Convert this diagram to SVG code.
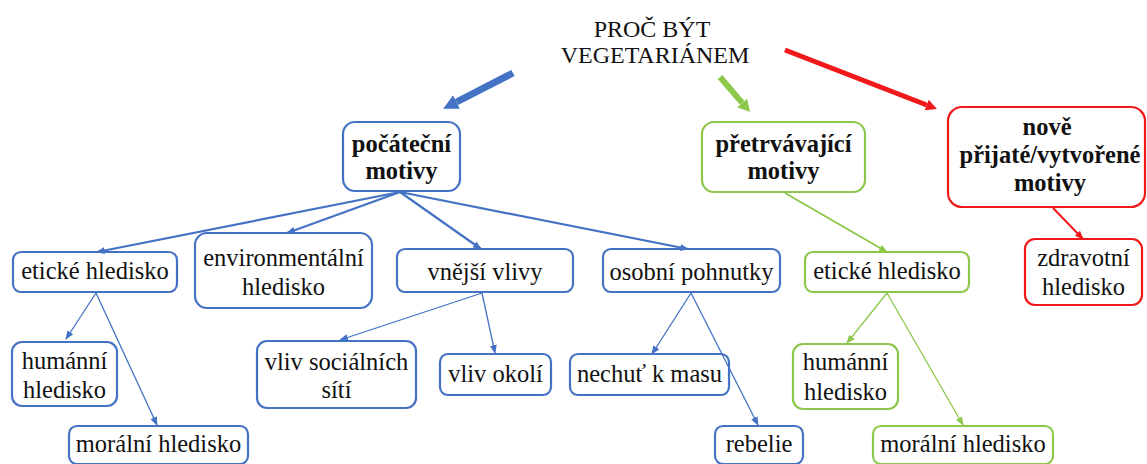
<svg xmlns="http://www.w3.org/2000/svg" width="1147" height="464" viewBox="0 0 1147 464" font-family="'Liberation Serif', 'Times New Roman', serif">
<style>
text{font-family:'Liberation Serif','Times New Roman',serif;fill:#111;text-anchor:middle}
.t{font-size:24px}
.n{font-size:24.5px}
.b{font-size:24.5px;font-weight:bold}
rect{fill:#fff;stroke-width:2.2}
.bl rect{stroke:#4472C4}
.gr rect{stroke:#8CC84B}
.rd rect{stroke:#F01818}
.cb{stroke:#4472C4;fill:none}
.cg{stroke:#8CC84B;fill:none}
.cr{stroke:#F01818;fill:none}
</style>
<defs>
<marker id="ab" markerUnits="userSpaceOnUse" viewBox="0 -5 9 10" refX="8" refY="0" markerWidth="9" markerHeight="10" orient="auto"><path d="M0,-3.5 L9,0 L0,3.5 z" fill="#4472C4"/></marker>
<marker id="ag" markerUnits="userSpaceOnUse" viewBox="0 -5 9 10" refX="8" refY="0" markerWidth="9" markerHeight="10" orient="auto"><path d="M0,-3.5 L9,0 L0,3.5 z" fill="#8CC84B"/></marker>
<marker id="ar" markerUnits="userSpaceOnUse" viewBox="0 -5 9 10" refX="8" refY="0" markerWidth="9" markerHeight="10" orient="auto"><path d="M0,-3.5 L9,0 L0,3.5 z" fill="#F01818"/></marker>
<marker id="Ab" markerUnits="userSpaceOnUse" viewBox="0 -8 16 16" refX="0" refY="0" markerWidth="16" markerHeight="16" orient="auto"><path d="M0,-7.5 L15,0 L0,7.5 z" fill="#4472C4"/></marker>
<marker id="Ag" markerUnits="userSpaceOnUse" viewBox="0 -8 16 16" refX="0" refY="0" markerWidth="16" markerHeight="16" orient="auto"><path d="M0,-6.5 L12,0 L0,6.5 z" fill="#8CC84B"/></marker>
<marker id="Ar" markerUnits="userSpaceOnUse" viewBox="0 -8 16 16" refX="0" refY="0" markerWidth="16" markerHeight="16" orient="auto"><path d="M0,-5.5 L11,0 L0,5.5 z" fill="#F01818"/></marker>
</defs>

<g id="title"><text class="t" x="652" y="37">PROČ BÝT</text><text class="t" x="655" y="63">VEGETARIÁNEM</text></g>

<g id="pocatecni" class="bl"><rect x="343" y="122" width="117" height="69" rx="12"/><text class="b" x="401.5" y="152">počáteční</text><text class="b" x="401.5" y="179">motivy</text></g>
<g id="pretrvavajici" class="gr"><rect x="702" y="122" width="163" height="70" rx="12"/><text class="b" x="783.5" y="152">přetrvávající</text><text class="b" x="783.5" y="179">motivy</text></g>
<g id="nove" class="rd"><rect x="948" y="107" width="197" height="100" rx="14"/><text class="b" x="1047" y="135">nově</text><text class="b" x="1050" y="163">přijaté/vytvořené</text><text class="b" x="1050" y="191">motivy</text></g>

<g id="eticke-b" class="bl"><rect x="13" y="252" width="164" height="40" rx="8"/><text class="n" x="95" y="279">etické hledisko</text></g>
<g id="environmentalni" class="bl"><rect x="195" y="233" width="177" height="75" rx="12"/><text class="n" x="283.5" y="266">environmentální</text><text class="n" x="283.5" y="295">hledisko</text></g>
<g id="vnejsi" class="bl"><rect x="397" y="249" width="176" height="43" rx="8"/><text class="n" x="485" y="280">vnější vlivy</text></g>
<g id="osobni" class="bl"><rect x="603" y="249" width="177" height="43" rx="8"/><text class="n" x="691.5" y="280">osobní pohnutky</text></g>

<g id="humanni-b" class="bl"><rect x="12" y="342" width="105" height="64" rx="10"/><text class="n" x="64.5" y="369">humánní</text><text class="n" x="64.5" y="398">hledisko</text></g>
<g id="moralni-b" class="bl"><rect x="69" y="426" width="179" height="38" rx="8"/><text class="n" x="158.5" y="452">morální hledisko</text></g>
<g id="socialni" class="bl"><rect x="257" y="341" width="159" height="67" rx="10"/><text class="n" x="336.5" y="370">vliv sociálních</text><text class="n" x="336.5" y="398">sítí</text></g>
<g id="okoli" class="bl"><rect x="440" y="354" width="111" height="41" rx="8"/><text class="n" x="495.5" y="382">vliv okolí</text></g>
<g id="nechut" class="bl"><rect x="570" y="354" width="159" height="41" rx="8"/><text class="n" x="649.5" y="382">nechuť k masu</text></g>
<g id="rebelie" class="bl"><rect x="715" y="426" width="88" height="38" rx="8"/><text class="n" x="759" y="452">rebelie</text></g>

<g id="eticke-g" class="gr"><rect x="805" y="252" width="164" height="40" rx="8"/><text class="n" x="887" y="279">etické hledisko</text></g>
<g id="humanni-g" class="gr"><rect x="793" y="344" width="105" height="65" rx="10"/><text class="n" x="845.5" y="370">humánní</text><text class="n" x="845.5" y="400">hledisko</text></g>
<g id="moralni-g" class="gr"><rect x="873" y="426" width="180" height="38" rx="8"/><text class="n" x="963" y="452">morální hledisko</text></g>
<g id="zdravotni" class="rd"><rect x="1025" y="239" width="117" height="66" rx="10"/><text class="n" x="1083.5" y="266">zdravotní</text><text class="n" x="1083.5" y="295">hledisko</text></g>

<g id="connectors">
<line class="cb" x1="513" y1="73" x2="456.5" y2="102" stroke-width="7" marker-end="url(#Ab)"/>
<line class="cg" x1="720" y1="77" x2="742.2" y2="102.9" stroke-width="6" marker-end="url(#Ag)"/>
<line class="cr" x1="785" y1="50" x2="926.7" y2="105" stroke-width="5" marker-end="url(#Ar)"/>

<line class="cb" x1="400" y1="192" x2="97" y2="252" stroke-width="2.2" marker-end="url(#ab)"/>
<line class="cb" x1="400" y1="192" x2="287" y2="233" stroke-width="2.2" marker-end="url(#ab)"/>
<line class="cb" x1="400" y1="192" x2="481" y2="249" stroke-width="2.2" marker-end="url(#ab)"/>
<line class="cb" x1="400" y1="192" x2="688" y2="249" stroke-width="2.2" marker-end="url(#ab)"/>
<line class="cb" x1="96" y1="293" x2="66" y2="339" stroke-width="1.3" marker-end="url(#ab)"/>
<line class="cb" x1="96" y1="293" x2="157" y2="425" stroke-width="1.3" marker-end="url(#ab)"/>
<line class="cb" x1="482" y1="293" x2="340" y2="340" stroke-width="1.3" marker-end="url(#ab)"/>
<line class="cb" x1="482" y1="293" x2="495" y2="353" stroke-width="1.3" marker-end="url(#ab)"/>
<line class="cb" x1="691" y1="293" x2="652" y2="354" stroke-width="1.3" marker-end="url(#ab)"/>
<line class="cb" x1="691" y1="293" x2="758" y2="425" stroke-width="1.3" marker-end="url(#ab)"/>

<line class="cg" x1="785" y1="193" x2="887" y2="252" stroke-width="2" marker-end="url(#ag)"/>
<line class="cg" x1="887" y1="293" x2="847" y2="343" stroke-width="1.3" marker-end="url(#ag)"/>
<line class="cg" x1="887" y1="293" x2="963" y2="425" stroke-width="1.3" marker-end="url(#ag)"/>
<line class="cr" x1="1053" y1="208" x2="1083" y2="239" stroke-width="2" marker-end="url(#ar)"/>
</g>
</svg>
